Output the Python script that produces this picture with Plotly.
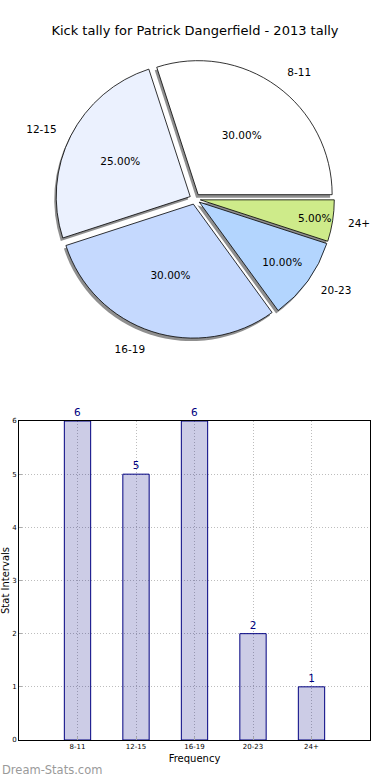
import plotly.graph_objects as go

# ---- data ----
labels = ["8-11", "12-15", "16-19", "20-23", "24+"]
counts = [6, 5, 6, 2, 1]
slice_colors = ["#FFFFFF", "#EBF1FE", "#C5D9FE", "#B3D5FE", "#CEEB8A"]
title_text = "Kick tally for Patrick Dangerfield - 2013 tally"
x_title = "Frequency"
y_title = "Stat Intervals"
watermark = "Dream-Stats.com"

W, H = 390, 780
FONT = "DejaVu Sans"

# pie geometry (pixels)
cx, cy, r, pull = 195, 199, 134, 0.04
r_lab = 146


def dom(dx=0, dy=0, rad=r):
    half = rad * (1 + pull)
    return dict(
        x=[(cx - half + dx) / W, (cx + half + dx) / W],
        y=[1 - (cy + half + dy) / H, 1 - (cy - half + dy) / H],
    )


pie_common = dict(labels=labels, values=counts, sort=False,
                  direction="counterclockwise", rotation=-18,
                  pull=[pull] * len(labels))

fig = go.Figure()

# shadow pie
fig.add_trace(go.Pie(
    **pie_common, domain=dom(-2, 3),
    marker=dict(colors=["#8f8f8f"] * 5, line=dict(width=0)),
    textinfo="none", hoverinfo="skip", showlegend=False,
))

# main pie
fig.add_trace(go.Pie(
    **pie_common, domain=dom(),
    marker=dict(colors=slice_colors, line=dict(color="#000000", width=0.8)),
    texttemplate="%{percent:.2%}", textposition="inside",
    insidetextorientation="horizontal",
    textfont=dict(family=FONT, size=10.5, color="#000000"),
    showlegend=False,
))

# outside labels overlay (slightly larger transparent pie)
fig.add_trace(go.Pie(
    **pie_common, domain=dom(rad=r_lab),
    marker=dict(colors=["rgba(0,0,0,0)"] * 5, line=dict(width=0)),
    textinfo="label", textposition="outside",
    textfont=dict(family=FONT, size=10.5, color="#000000"),
    hoverinfo="skip", showlegend=False,
))

# bar chart
fig.add_trace(go.Bar(
    x=labels, y=counts, width=0.45,
    marker=dict(color="rgba(0,0,128,0.2)", line=dict(color="#000080", width=1)),
    text=counts, textposition="outside",
    textfont=dict(family=FONT, size=10.5, color="#000080"),
    cliponaxis=False, showlegend=False,
    xaxis="x", yaxis="y",
))

axis_common = dict(
    showline=True, linecolor="#000000", linewidth=1, mirror=True,
    showgrid=True, gridcolor="#bdbdbd", griddash="1px,2px", gridwidth=1,
    ticks="inside", ticklen=3, tickcolor="#aaaaaa",
    tickfont=dict(size=7, family=FONT),
    zeroline=False, fixedrange=True, automargin=False,
)

fig.update_layout(
    width=W, height=H,
    margin=dict(l=0, r=0, t=0, b=0),
    paper_bgcolor="white", plot_bgcolor="white",
    font=dict(family=FONT, color="#000000"),
    title=dict(text=title_text, x=0.5, xanchor="center", y=1 - 30 / H,
               yanchor="middle", font=dict(size=13, family=FONT, color="#000000")),
    xaxis=dict(
        domain=[19 / W, 370 / W], range=[-1, 5], type="category",
        title=dict(text=x_title, font=dict(size=10, family=FONT), standoff=4),
        **axis_common,
    ),
    yaxis=dict(
        domain=[1 - 740 / H, 1 - 421 / H], range=[0, 6], dtick=1,
        title=dict(text=y_title, font=dict(size=10, family=FONT), standoff=4),
        **axis_common,
    ),
    annotations=[dict(
        text=watermark, xref="paper", yref="paper", x=0, y=1 - 770 / H,
        xanchor="left", yanchor="middle", showarrow=False,
        font=dict(size=11.5, family="DejaVu Sans", color="#9a9a9a"),
    )],
)

fig.write_html("out.html", config={"displayModeBar": False},
               post_script="document.body.style.margin='0px';")
